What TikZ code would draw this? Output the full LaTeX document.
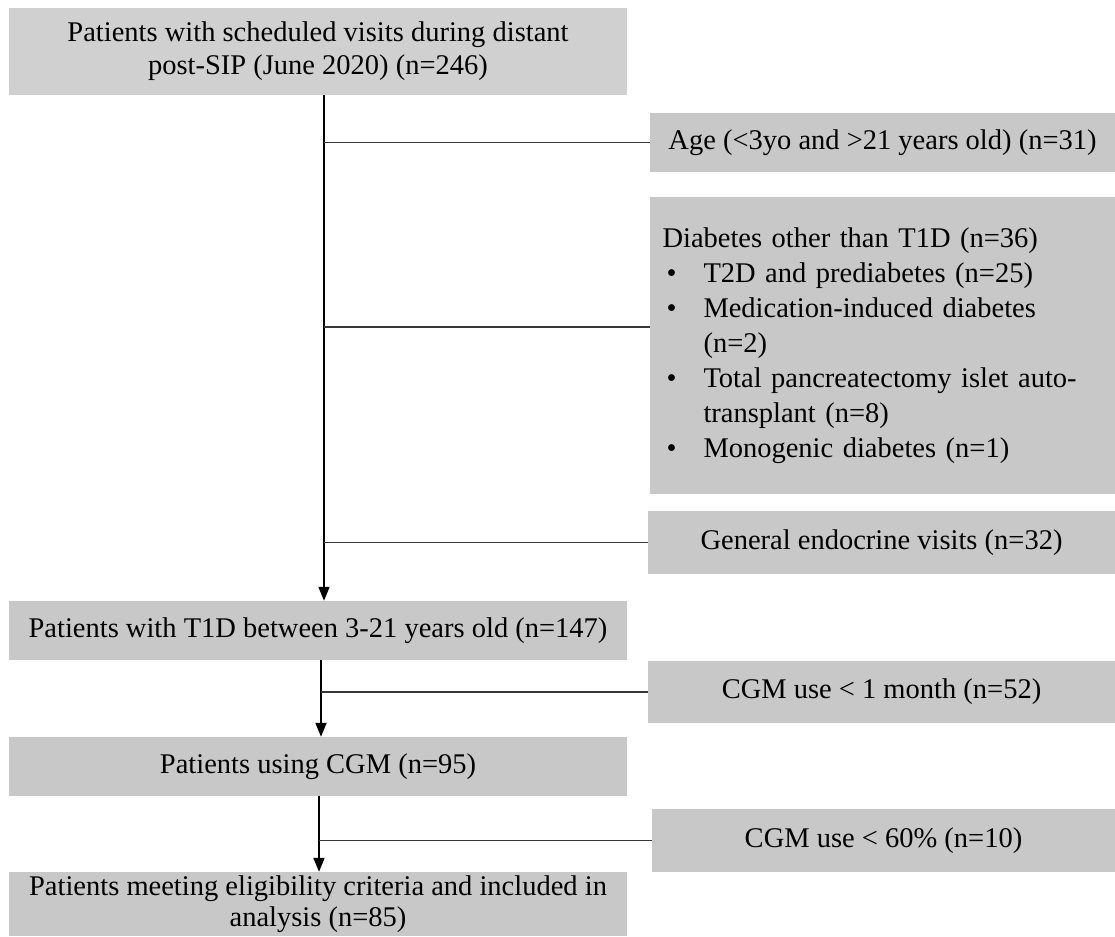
\documentclass[tikz,border=0pt]{standalone}
\usepackage{fontspec}
\setmainfont{Liberation Serif}
\usetikzlibrary{arrows.meta}
\definecolor{boxgray}{RGB}{200,200,200}
\definecolor{topgray}{RGB}{208,208,208}
\definecolor{linegray}{RGB}{55,55,55}
\newcommand{\fsz}{\fontsize{28.5}{33}\selectfont}
\newcommand{\fsd}{\fontsize{28.5}{35}\selectfont}
\newcommand{\fsf}{\fontsize{28.5}{31}\selectfont}
\newcommand{\bul}{\makebox[41pt][l]{\hspace*{4pt}\textbullet}}
\begin{document}
\begin{tikzpicture}[x=1pt,y=-1pt,
  box/.style={fill=boxgray, inner sep=0pt, align=center, font=\fsz, text=black},
  arr/.style={draw=black, line width=1.8pt, -{Triangle[length=14pt,width=11pt]}},
  branch/.style={draw=linegray, line width=1.8pt}]
\useasboundingbox (0,0) rectangle (1115,936);
\clip (0,0) rectangle (1115,936);
\fill[white] (0,0) rectangle (1115,936);

% main column
\node[box, fill=topgray, minimum width=618pt, minimum height=87pt] (top) at (318,51.5)
  {Patients with scheduled visits during distant\\post-SIP (June 2020) (n=246)};
\node[box, minimum width=618pt, minimum height=59pt] (t1d) at (318,630.5)
  {Patients with T1D between 3-21 years old (n=147)};
\node[box, minimum width=618pt, minimum height=59pt] (cgm) at (318,766.5)
  {Patients using CGM (n=95)};
\node[box, minimum width=618pt, minimum height=64pt, font=\fsf] (final) at (318,904)
  {Patients meeting eligibility criteria and included in\\analysis (n=85)};

% exclusion boxes
\node[box, minimum width=465pt, minimum height=59pt] (age) at (882.5,142.5)
  {Age (<3yo and >21 years old) (n=31)};
\node[box, minimum width=465pt, minimum height=297pt, text width=440pt, align=left, font=\fsd] (diab) at (882.5,345.5)
  {Diabetes other than T1D (n=36)\\
   \bul T2D and prediabetes (n=25)\\
   \bul Medication-induced diabetes\\
   \hspace*{41pt}(n=2)\\
   \bul Total pancreatectomy islet auto-\\
   \hspace*{41pt}transplant (n=8)\\
   \bul Monogenic diabetes (n=1)};
\node[box, minimum width=467pt, minimum height=63pt] (gen) at (881.5,542.5)
  {General endocrine visits (n=32)};
\node[box, minimum width=467pt, minimum height=62pt] (cgm1) at (881.5,692)
  {CGM use < 1 month (n=52)};
\node[box, minimum width=463pt, minimum height=63pt] (cgm60) at (883.5,840.5)
  {CGM use < 60\% (n=10)};

% trunk junctions
\coordinate (j1) at (324,142.5);
\coordinate (j2) at (324,327);
\coordinate (j3) at (324,542.5);
\coordinate (k1) at (321,692);
\coordinate (k2) at (319,840.5);

\draw[arr] (top.south -| j1) -- (t1d.north -| j1);
\draw[branch] (j1) -- (age.west);
\draw[branch] (j2) -- (diab.west |- j2);
\draw[branch] (j3) -- (gen.west);

\draw[arr] (t1d.south -| k1) -- (cgm.north -| k1);
\draw[branch] (k1) -- (cgm1.west);

\draw[arr] (cgm.south -| k2) -- (final.north -| k2);
\draw[branch] (k2) -- (cgm60.west);
\end{tikzpicture}
\end{document}
